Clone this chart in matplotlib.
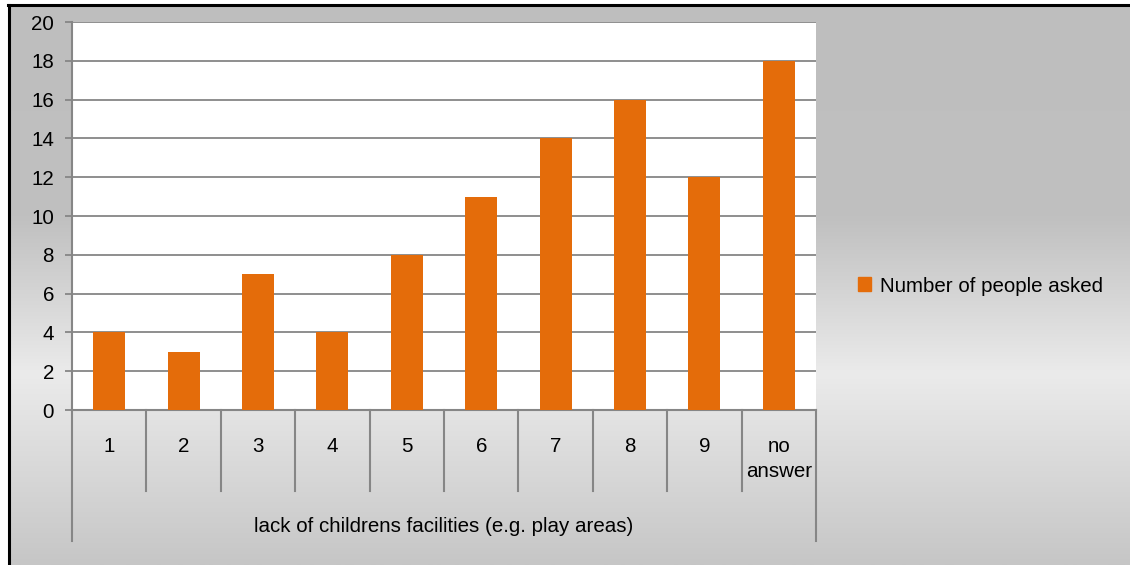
import matplotlib
matplotlib.use("Agg")
import matplotlib.pyplot as plt
import numpy as np
from matplotlib.colors import LinearSegmentedColormap

categories = ["1", "2", "3", "4", "5", "6", "7", "8", "9", "no\nanswer"]
values = [4, 3, 7, 4, 8, 11, 14, 16, 12, 18]
group_label = "lack of childrens facilities (e.g. play areas)"
series_name = "Number of people asked"
yticks = list(range(0, 21, 2))

BAR_COLOR = "#E46C0A"
GRID_COLOR = "#868686"
FONT = "Liberation Sans"
FS = 14.8

W, H, DPI = 1130, 565, 100
fig = plt.figure(figsize=(W / DPI, H / DPI), dpi=DPI, facecolor="white")

# background: grey gradient panel, offset by the chart border
bg = fig.add_axes([8 / W, 0, 1 - 8 / W, 1 - 4 / H], zorder=-10)
bg.set_axis_off()
grad_cmap = LinearSegmentedColormap.from_list(
    "bg", [(0.0, "#BEBEBE"), (0.38, "#C0C0C0"), (0.66, "#EBEBEB"), (1.0, "#C6C6C6")]
)
grad = np.linspace(0, 1, 256).reshape(-1, 1)
bg.imshow(grad, aspect="auto", cmap=grad_cmap, extent=[0, 1, 0, 1])
bg.set_xlim(0, 1)
bg.set_ylim(0, 1)
fig.add_artist(plt.Line2D([8 / W, 1], [1 - 4.5 / H, 1 - 4.5 / H], color="black", lw=2.2))
fig.add_artist(plt.Line2D([8.5 / W, 8.5 / W], [0, 1 - 4.5 / H], color="black", lw=2.2))

# plot area: x 72..816, y 22..410 (pixels)
x0, x1, ytop, ybot = 72, 816, 22, 410
ax = fig.add_axes([x0 / W, 1 - ybot / H, (x1 - x0) / W, (ybot - ytop) / H])
ax.set_facecolor("white")

x = np.arange(len(categories))
ax.bar(x, values, width=0.43, color=BAR_COLOR, zorder=3)
ax.set_xlim(-0.5, len(categories) - 0.5)
ax.set_ylim(0, 20)
ax.set_yticks(yticks)
ax.set_yticklabels([str(t) for t in yticks], fontsize=FS, family=FONT)
ax.yaxis.grid(True, color=GRID_COLOR, lw=1.3, zorder=0)
ax.tick_params(axis="y", length=5, width=1.3, color=GRID_COLOR, pad=8)
ax.set_xticks([])
for s in ["top", "right"]:
    ax.spines[s].set_visible(False)
for s in ["left", "bottom"]:
    ax.spines[s].set_color(GRID_COLOR)
    ax.spines[s].set_linewidth(1.5)

# multi-level category axis
tr = ax.get_xaxis_transform()
hpx = ybot - ytop
short_y = -(491 - ybot) / hpx
long_y = -(541 - ybot) / hpx
for i in range(1, len(categories)):
    ax.plot([i - 0.5, i - 0.5], [0, short_y], transform=tr, color=GRID_COLOR,
            lw=1.5, clip_on=False)
for xe in (-0.5, len(categories) - 0.5):
    ax.plot([xe, xe], [0, long_y], transform=tr, color=GRID_COLOR,
            lw=1.5, clip_on=False)
for xi, lab in zip(x, categories):
    ax.text(xi, -(437 - ybot) / hpx, lab, transform=tr, ha="center", va="top",
            fontsize=FS, family=FONT, linespacing=1.4)
ax.text((len(categories) - 1) / 2, -(527 - ybot) / hpx, group_label, transform=tr,
        ha="center", va="center", fontsize=FS, family=FONT)

# legend
fig.legend(handles=[plt.Rectangle((0, 0), 1, 1, color=BAR_COLOR)], labels=[series_name],
           loc="center left", bbox_to_anchor=(839 / W, 1 - 286 / H), frameon=False,
           prop={"family": FONT, "size": FS}, handlelength=0.65, handleheight=0.65,
           handletextpad=0.45)

fig.savefig("out.png", dpi=DPI, facecolor="white")
